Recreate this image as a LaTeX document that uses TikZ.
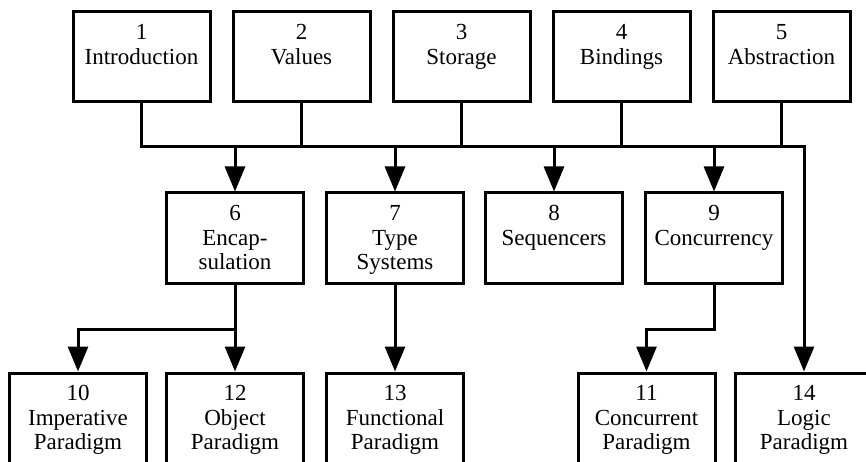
\documentclass[tikz,border=0pt]{standalone}
\usepackage{fontspec}
\setmainfont{Liberation Serif}
\usetikzlibrary{arrows.meta}

\begin{document}
\begin{tikzpicture}[x=1pt, y=-1pt,
        chapter/.style={draw, line width=3pt, minimum width=137pt, minimum height=90pt, inner sep=0pt},
        lower/.style={chapter, minimum height=130pt},
        title/.style={align=center, anchor=north, inner sep=0pt, yshift=-14pt,
                      font=\fontsize{23}{24.5}\selectfont},
        link/.style={line width=3pt},
        arrow/.style={link, -{Triangle[length=25pt, width=20pt]}}]
        \useasboundingbox (0,0) rectangle (866,462);
        \clip (0,0) rectangle (866,462);

        % top row
        \node[chapter, label={[title]north:1\\Introduction}] (intro) at (141.5, 57) {};
        \node[chapter, label={[title]north:2\\Values}]       (values) at (301.5, 57) {};
        \node[chapter, label={[title]north:3\\Storage}]      (storage) at (461.5, 57) {};
        \node[chapter, label={[title]north:4\\Bindings}]     (bindings) at (621.5, 57) {};
        \node[chapter, label={[title]north:5\\Abstraction}]  (abstr) at (781.5, 57) {};

        % middle row
        \node[chapter, label={[title]north:6\\Encap-\\sulation}] (encap) at (235, 238) {};
        \node[chapter, label={[title]north:7\\Type\\Systems}]    (types) at (395, 238) {};
        \node[chapter, label={[title]north:8\\Sequencers}]       (seqr) at (554, 238) {};
        \node[chapter, label={[title]north:9\\Concurrency}]      (concy) at (714, 238) {};

        % bottom row, runs off the page
        \node[lower, label={[title]north:10\\Imperative\\Paradigm}] (imper) at (78, 438) {};
        \node[lower, label={[title]north:12\\Object\\Paradigm}]     (object) at (235, 438) {};
        \node[lower, label={[title]north:13\\Functional\\Paradigm}] (func) at (395, 438) {};
        \node[lower, label={[title]north:11\\Concurrent\\Paradigm}] (concp) at (646.5, 438) {};
        \node[lower, label={[title]north:14\\Logic\\Paradigm}]      (logic) at (804, 438) {};

        \coordinate (bus) at (0, 147);
        \coordinate (split) at (0, 329);

        % common bus under the top row
        \draw[arrow] (intro.south) |- (logic.north |- bus) -- (logic.north);
        \draw[link] (values.south) -- (values.south |- bus);
        \draw[link] (storage.south) -- (storage.south |- bus);
        \draw[link] (bindings.south) -- (bindings.south |- bus);
        \draw[link] (abstr.south) -- (abstr.south |- bus);
        \draw[arrow] (encap.north |- bus) -- (encap.north);
        \draw[arrow] (types.north |- bus) -- (types.north);
        \draw[arrow] (seqr.north |- bus) -- (seqr.north);
        \draw[arrow] (concy.north |- bus) -- (concy.north);

        % middle to bottom
        \draw[arrow] (encap.south) -- (object.north);
        \draw[arrow] (encap.south |- split) -| (imper.north);
        \draw[arrow] (types.south) -- (func.north);
        \draw[arrow] (concy.south) -- (concy.south |- split) -| (concp.north);
    \end{tikzpicture}
\end{document}
